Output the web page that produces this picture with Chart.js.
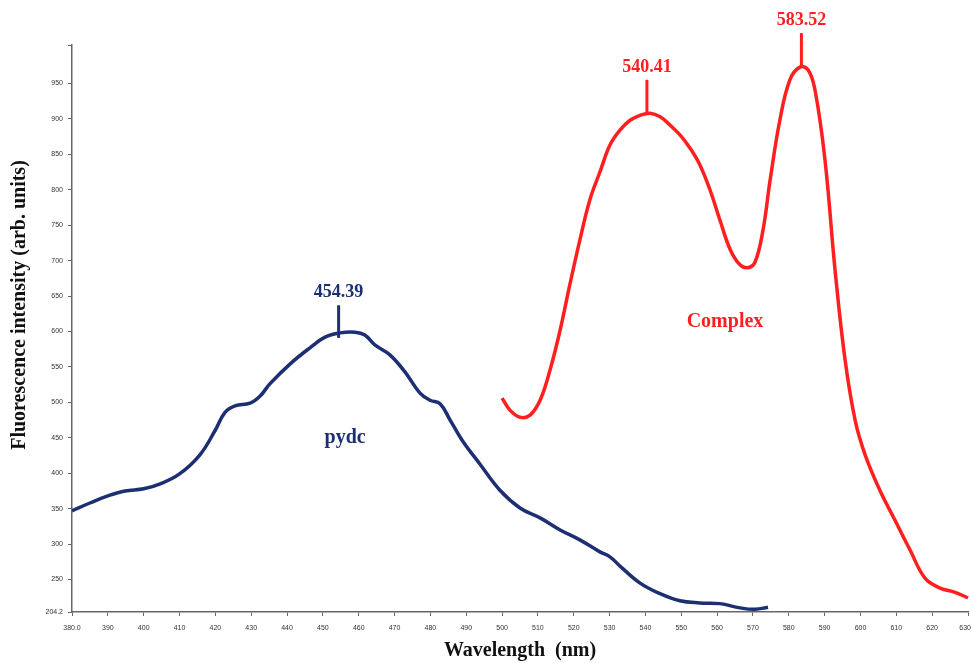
<!DOCTYPE html>
<html>
<head>
<meta charset="utf-8">
<script src="https://cdn.jsdelivr.net/npm/chart.js@4.4.1/dist/chart.umd.min.js"></script>
<style>
  html, body { margin: 0; padding: 0; background: #fff; }
  #wrap { width: 971px; height: 663px; }
</style>
</head>
<body>
<div id="wrap"><canvas id="chart" width="971" height="663"></canvas></div>
<script>
// pydc emission spectrum (wavelength nm / intensity)
var pydcX = [380, 385, 390, 394.8, 400, 404.6, 410, 415.7, 420, 422.7, 425.5, 429.7, 432.5, 435.2, 440.8, 446.4, 450.6, 454.8, 459, 461.7, 464.5, 468.7, 472.9, 477.1, 479.9, 482.7, 485.5, 488.8, 493.8, 499.4, 505, 510.6, 516.2, 521.7, 527.3, 530.1, 532.9, 538.5, 544.1, 549.6, 555.2, 560.8, 566.4, 570.6, 574.2];
var pydcY = [347, 358, 368, 375, 378, 385, 399, 426, 461, 486, 495, 499, 509, 526, 554, 577, 592, 598, 599, 595, 581, 567, 543, 513, 503, 498, 475, 447, 413, 376, 351, 337, 320, 306, 289, 282, 269, 245, 230, 220, 217, 216, 210, 208, 211];

// complex emission spectrum
var complexX = [500, 502.2, 505, 507.8, 510.6, 513.4, 516.2, 518.9, 521.7, 524.5, 527.3, 530.1, 532.9, 535.7, 538.5, 541.3, 544.1, 546.9, 549.7, 552.4, 555.2, 558, 560.8, 563.7, 566.4, 568.6, 570.6, 572.8, 574.8, 577.5, 580.3, 583.1, 585.4, 587.3, 590.1, 592.9, 595.7, 598.5, 601.3, 605.4, 609.6, 613.8, 618, 622.2, 626.4, 630];
var complexY = [506, 489, 479, 482, 503, 546, 602, 666, 729, 786, 825, 863, 884, 898, 905, 908, 903, 891, 877, 859, 835, 800, 757, 715, 694, 690, 698, 743, 814, 898, 955, 973, 969, 941, 842, 687, 560, 475, 426, 376, 334, 292, 252, 238, 232, 224];

// peak markers
var peakX = [454.39, 540.41, 583.52];
var peakLow = [591, 908, 973];
var peakHigh = [637, 955, 1021];
var peakLabels = ['454.39', '540.41', '583.52'];
var peakColors = ['#1c2f72', '#ff1f1f', '#ff1f1f'];

// axis ticks
var yTicks = [204.2, 250, 300, 350, 400, 450, 500, 550, 600, 650, 700, 750, 800, 850, 900, 950, 1004.2];
var xMin = 380, xMax = 630, yMin = 204.2, yMax = 1004.2;

// series text labels
var seriesNames = ['pydc', 'Complex'];
var seriesNameX = [456.2, 562.2];
var seriesNameY = [450, 614];

function pairs(xs, ys) {
  var out = [];
  for (var i = 0; i < xs.length; i++) out.push({x: xs[i], y: ys[i]});
  return out;
}

var datasets = [
  { label: 'pydc', data: pairs(pydcX, pydcY), borderColor: '#1c2f72', borderWidth: 3.5, pointRadius: 0, tension: 0.4, fill: false },
  { label: 'Complex', data: pairs(complexX, complexY), borderColor: '#ff1f1f', borderWidth: 3.5, pointRadius: 0, tension: 0.4, fill: false, clip: false }
];
for (var i = 0; i < peakX.length; i++) {
  datasets.push({
    label: 'peak' + i,
    data: [{x: peakX[i], y: peakLow[i]}, {x: peakX[i], y: peakHigh[i]}],
    borderColor: peakColors[i], borderWidth: 3, pointRadius: 0, clip: false
  });
}

var serif = '"Liberation Serif", "Times New Roman", serif';

var textPlugin = {
  id: 'texts',
  afterDatasetsDraw: function(chart) {
    var ctx = chart.ctx, xs = chart.scales.x, ys = chart.scales.y;
    ctx.save();
    ctx.font = 'bold 18px ' + serif;
    ctx.textAlign = 'center';
    ctx.textBaseline = 'middle';
    for (var i = 0; i < peakX.length; i++) {
      ctx.fillStyle = peakColors[i];
      ctx.fillText(peakLabels[i], xs.getPixelForValue(peakX[i]), ys.getPixelForValue(peakHigh[i]) - 13);
    }
    ctx.font = 'bold 20px ' + serif;
    ctx.fillStyle = '#1c2f72';
    ctx.fillText(seriesNames[0], xs.getPixelForValue(seriesNameX[0]), ys.getPixelForValue(seriesNameY[0]));
    ctx.fillStyle = '#ff1f1f';
    ctx.fillText(seriesNames[1], xs.getPixelForValue(seriesNameX[1]), ys.getPixelForValue(seriesNameY[1]));

    // y axis title
    ctx.translate(20, 305);
    ctx.rotate(-Math.PI / 2);
    ctx.font = 'bold 20px ' + serif;
    ctx.fillStyle = '#111';
    ctx.fillText('Fluorescence intensity (arb. units)', 0, 0);
    ctx.restore();
  }
};

new Chart(document.getElementById('chart'), {
  type: 'line',
  data: { datasets: datasets },
  plugins: [textPlugin],
  options: {
    responsive: false,
    animation: false,
    layout: { padding: { left: 0, right: 3, top: 45, bottom: 0 } },
    plugins: { legend: { display: false }, tooltip: { enabled: false } },
    scales: {
      x: {
        type: 'linear', min: xMin, max: xMax,
        afterFit: function(s) { s.height = 51; s.paddingLeft = 0; s.paddingRight = 0; },
        grid: { display: true, drawOnChartArea: false, tickLength: 4, color: '#666' },
        border: { display: true, color: '#666', width: 1.5 },
        ticks: {
          stepSize: 10, maxRotation: 0, autoSkip: false, padding: 8,
          color: '#333', font: { size: 7, family: 'Arial, "Liberation Sans", sans-serif' },
          callback: function(v) { return (v === xMin || v === xMax) ? v.toFixed(1) : String(v); }
        },
        title: {
          display: true, text: 'Wavelength  (nm)', color: '#111',
          font: { size: 20, weight: 'bold', family: serif },
          padding: { top: 0, bottom: 0 }
        }
      },
      y: {
        type: 'linear', min: yMin, max: yMax,
        afterFit: function(s) { s.width = 72; },
        afterBuildTicks: function(s) { s.ticks = yTicks.map(function(v) { return {value: v}; }); },
        grid: { display: true, drawOnChartArea: false, tickLength: 4, color: '#666' },
        border: { display: true, color: '#666', width: 1.5 },
        ticks: {
          padding: 5, color: '#333', font: { size: 7, family: 'Arial, "Liberation Sans", sans-serif' },
          callback: function(v) { return v === yMax ? '' : String(v); }
        }
      }
    }
  }
});
</script>
</body>
</html>
